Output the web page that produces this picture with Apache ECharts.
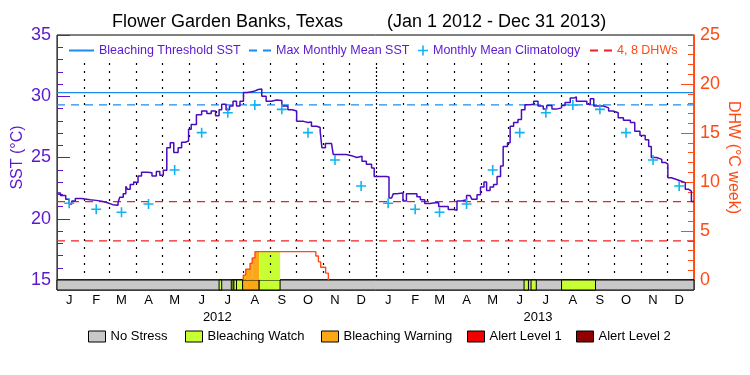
<!DOCTYPE html>
<html><head><meta charset="utf-8">
<script src="https://cdn.jsdelivr.net/npm/echarts@6/dist/echarts.min.js"></script>
<style>html,body{margin:0;padding:0;background:#fff}#c{width:750px;height:375px}</style>
</head><body><div id="c"></div>
<script>
// ---------- DATA ----------
const titleLeft = 'Flower Garden Banks, Texas';
const titleRight = '(Jan 1 2012 - Dec 31 2013)';
const monthLetters = ['J','F','M','A','M','J','J','A','S','O','N','D'];
const yearLabels = ['2012','2013'];
// days since 2012-01-01
const sstDay = [
  0,4,10,14,17,21,28,38,45,53,
  58,64,70,72,76,79,81,84,88,90,
  93,97,104,109,114,118,122,126,130,134,
  139,143,147,151,154,160,166,172,177,182,
  186,189,194,198,202,206,210,214,218,222,
  226,231,235,240,246,252,258,265,270,275,
  283,288,292,298,302,304,308,315,317,325,
  332,338,344,350,355,361,364,370,378,381,
  384,386,390,397,401,409,413,417,422,428,
  434,438,445,449,455,459,464,470,474,476,
  482,486,490,493,497,501,505,509,512,517,
  520,524,529,533,537,543,547,552,558,562,
  568,573,579,583,589,593,596,604,608,612,
  616,621,627,633,638,644,650,658,663,669,
  675,679,682,688,694,698,701,705,711,715,
  721,725,728,731];
const sstVal = [
  22.1,21.9,21.6,21.2,21.45,21.65,21.55,21.5,21.4,21.3,
  21.15,21.1,21.3,21.75,22.05,22.65,22.4,22.8,23.0,22.95,
  23.5,23.8,23.75,23.5,23.85,23.55,23.95,25.8,26.2,25.4,
  25.8,26.25,26.35,27.3,27.7,28.5,28.8,28.6,28.8,28.4,
  28.9,29.35,28.9,29.2,29.6,29.2,29.6,30.3,30.35,30.4,
  30.55,30.6,30.0,29.6,29.7,29.65,29.2,28.9,28.8,27.95,
  27.85,27.9,27.55,27.45,27.15,25.8,26.15,26.1,25.25,25.25,
  25.15,25.0,25.1,24.7,24.45,24.15,23.45,23.45,23.4,21.7,
  21.75,22.05,22.1,21.45,22.05,22.05,21.8,21.55,21.25,21.3,
  21.3,21.0,21.0,20.75,20.7,21.45,21.55,21.9,21.95,21.6,
  21.95,22.6,23.0,22.3,22.6,22.8,23.45,24.3,25.9,26.2,
  27.55,27.85,28.1,28.9,29.3,29.35,29.6,29.2,28.95,29.25,
  28.95,29.05,29.25,29.5,29.85,29.95,29.6,29.6,29.35,29.8,
  29.2,29.2,29.05,28.8,28.65,28.25,28.05,27.85,27.15,26.8,
  26.45,25.9,25.0,24.85,24.6,24.45,23.35,23.2,23.1,22.95,
  22.4,22.25,21.4,21.4];
const climMonthly = [21.26,20.77,20.53,21.2,23.98,27.03,28.66,29.29,28.93,27.03,24.8,22.67];
const thresholdSST = 30.3;
const mmmSST = 29.3;
const dhwLevels = [4, 8];
const dhwDay = [213.8,216.5,221.5,224,227.2,297,300,302.6,308.3,311.4];
const dhwVal = [0.5,1.1,1.7,2.25,2.9,2.45,1.85,1.3,0.7,0];
const stressNames = ['No Stress','Bleaching Watch','Bleaching Warning','Alert Level 1','Alert Level 2'];
const stressStart = [186,200,203,206,213,232,536,544,579];
const stressEnd   = [189,202,206,213,232,256,541,550,618];
const stressLevel = [1,1,1,1,2,1,1,1,1];

// ---------- STYLE ----------
const FONT = 'Liberation Sans, Arial, sans-serif';
const PURPLE = '#5a18d0';
const LINEPURPLE = '#4a0cc0';
const ORANGE = '#ff4a14';
const BLUE = '#1a8cf0';
const CYAN = '#10b4f0';
const RED = '#f02020';
const stressColors = ['#c8c8c8','#c8ff32','#fba814','#f00000','#900000'];
const PLUS = 'path://M4,0L5.5,0L5.5,4L9.5,4L9.5,5.5L5.5,5.5L5.5,9.5L4,9.5L4,5.5L0,5.5L0,4L4,4Z';

const dayOf = (y,m,d) => (Date.UTC(y,m,d) - Date.UTC(2012,0,1)) / 864e5;
const monthStarts = [];
for (let y = 2012; y <= 2013; y++) for (let m = 0; m < 12; m++) monthStarts.push(dayOf(y,m,1));
const END = dayOf(2014,0,1);
const monthMid = monthStarts.map(d => d + 14);

const sstData = sstDay.map((d,i) => [d, sstVal[i]]);
const climData = monthMid.map((d,i) => [d, climMonthly[i % 12]]);
const dhwLine = [[dhwDay[0], 0]].concat(dhwDay.map((d,i) => [d, dhwVal[i]]));

const fillItems = [];
for (let i = 0; i < dhwDay.length - 1; i++) {
  const s = dhwDay[i], e = dhwDay[i+1], v = dhwVal[i];
  stressStart.forEach((ss,k) => {
    const a = Math.max(s, ss), b = Math.min(e, stressEnd[k]);
    if (b > a && stressLevel[k] > 0) fillItems.push([a, b, v, stressLevel[k]]);
  });
}
const stressItems = [[0, END, 0]].concat(stressStart.map((s,k) => [s, stressEnd[k], stressLevel[k]]));
const gridLines = monthStarts.slice(1);

const chart = echarts.init(document.getElementById('c'), null, {renderer:'canvas'});

function legendItem(name, left, top, w, h, color, extra) {
  return Object.assign({
    data:[{name:name, textStyle:{color:color}}], left:left, top:top, padding:0, itemGap:0,
    itemWidth:w, itemHeight:h, selectedMode:false,
    textStyle:{fontFamily:FONT, fontSize:12.5, color:color}
  }, extra || {});
}
const noSym = {itemStyle:{opacity:0}};
const boxed = {icon:'rect', itemStyle:{borderColor:'#000', borderWidth:1, opacity:1}, textStyle:{fontFamily:FONT, fontSize:13, color:'#000'}};

const option = {
  animation:false,
  backgroundColor:'#fff',
  title:[
    {text:titleLeft, left:112, top:13, padding:0, textStyle:{fontFamily:FONT, fontSize:18, fontWeight:'normal', color:'#000'}},
    {text:titleRight, left:387, top:13, padding:0, textStyle:{fontFamily:FONT, fontSize:18, fontWeight:'normal', color:'#000'}}
  ],
  legend:[
    legendItem('Bleaching Threshold SST', 68, 44, 25, 10, PURPLE, noSym),
    legendItem('Max Monthly Mean SST', 248, 44, 22, 10, PURPLE, noSym),
    legendItem('Monthly Mean Climatology', 418, 44, 10, 10, PURPLE, {itemStyle:{opacity:1, color:CYAN}}),
    legendItem('4, 8 DHWs', 589, 44, 22, 10, ORANGE, noSym),
    legendItem(stressNames[0], 88, 330, 17, 11, '#000', boxed),
    legendItem(stressNames[1], 185, 330, 17, 11, '#000', boxed),
    legendItem(stressNames[2], 321, 330, 17, 11, '#000', boxed),
    legendItem(stressNames[3], 467, 330, 17, 11, '#000', boxed),
    legendItem(stressNames[4], 576, 330, 17, 11, '#000', boxed)
  ],
  grid:[
    {left:57, right:56, top:35, height:245, show:true, borderColor:'#000', borderWidth:1, backgroundColor:'transparent', outerBoundsMode:'none'},
    {left:57, right:56, top:280, height:10, show:true, borderColor:'#000', borderWidth:1, outerBoundsMode:'none'}
  ],
  xAxis:[
    {gridIndex:0, type:'value', min:0, max:END, show:false},
    {gridIndex:1, type:'value', min:0, max:END, position:'bottom',
      axisLine:{show:false}, axisTick:{show:false}, splitLine:{show:false},
      axisLabel:{customValues:monthMid, margin:4, fontFamily:FONT, fontSize:13, color:'#000',
        formatter:v => monthLetters[new Date(Date.UTC(2012,0,1) + v*864e5).getUTCMonth()]}},
    {gridIndex:1, type:'value', min:0, max:END, position:'bottom', offset:18,
      axisLine:{show:false}, axisTick:{show:false}, splitLine:{show:false},
      axisLabel:{customValues:[184, 552], margin:3, fontFamily:FONT, fontSize:13, color:'#000',
        formatter:v => yearLabels[v < 366 ? 0 : 1]}}
  ],
  yAxis:[
    {gridIndex:0, type:'value', min:15, max:35, interval:5, position:'left',
      name:'SST (°C)', nameLocation:'middle', nameGap:31, nameMoveOverlap:false,
      nameTextStyle:{fontFamily:FONT, fontSize:16, color:PURPLE},
      axisLine:{show:true, lineStyle:{color:PURPLE, width:1}},
      axisTick:{show:true, inside:true, length:13, lineStyle:{color:PURPLE}},
      minorTick:{show:true, splitNumber:5, length:6, lineStyle:{color:PURPLE}},
      splitLine:{show:false},
      axisLabel:{margin:6, fontFamily:FONT, fontSize:18, color:PURPLE}},
    {gridIndex:0, type:'value', min:0, max:25, interval:5, position:'right',
      name:'DHW (°C week)', nameLocation:'middle', nameGap:31, nameRotate:-90, nameMoveOverlap:false,
      nameTextStyle:{fontFamily:FONT, fontSize:16, color:ORANGE},
      axisLine:{show:true, lineStyle:{color:ORANGE, width:1}},
      axisTick:{show:true, inside:true, length:13, lineStyle:{color:ORANGE}},
      minorTick:{show:true, splitNumber:5, length:6, lineStyle:{color:ORANGE}},
      splitLine:{show:false},
      axisLabel:{margin:6, fontFamily:FONT, fontSize:18, color:ORANGE}},
    {gridIndex:1, type:'value', min:0, max:1, show:false}
  ],
  series:[
    {type:'custom', name:'stressbar', xAxisIndex:1, yAxisIndex:2, z:2, silent:true,
      data:stressItems, encode:{x:[0,1], y:2},
      renderItem:(p, api) => {
        const a = api.coord([api.value(0), 1]), b = api.coord([api.value(1), 0]);
        return {type:'rect', shape:{x:a[0], y:a[1], width:b[0]-a[0], height:b[1]-a[1]},
          style:{fill:stressColors[api.value(2)], stroke:'#000', lineWidth:1}};
      }},
    {type:'custom', name:'dhwfill', xAxisIndex:0, yAxisIndex:1, z:2, silent:true,
      data:fillItems, encode:{x:[0,1], y:2},
      renderItem:(p, api) => {
        const a = api.coord([api.value(0), api.value(2)]), b = api.coord([api.value(1), 0]);
        return {type:'rect', shape:{x:a[0], y:a[1], width:b[0]-a[0], height:b[1]-a[1]},
          style:{fill:stressColors[api.value(3)]}};
      }},
    {type:'custom', name:'monthgrid', xAxisIndex:0, yAxisIndex:0, z:3, silent:true,
      data:gridLines.map(d => [d, 32.7]), encode:{x:0, y:1},
      renderItem:(p, api) => {
        const d = api.value(0);
        const a = api.coord([d, api.value(1)]), b = api.coord([d, 15.15]);
        const isYear = Math.abs(d - 366) < 0.5;
        const x = Math.round(a[0]) + 0.5;
        return {type:'line', shape:{x1:x, y1:Math.round(a[1]), x2:x, y2:Math.round(b[1])},
          style:{stroke:'#000', lineWidth:1.2, lineDash:isYear ? [2,2] : [2,6]}};
      }},
    {type:'line', name:'Bleaching Threshold SST', xAxisIndex:0, yAxisIndex:0, z:4,
      data:[[0, thresholdSST],[END, thresholdSST]], symbol:'none', silent:true,
      color:BLUE, lineStyle:{color:BLUE, width:1.3}},
    {type:'line', name:'Max Monthly Mean SST', xAxisIndex:0, yAxisIndex:0, z:4,
      data:[[0, mmmSST],[END, mmmSST]], symbol:'none', silent:true,
      color:BLUE, lineStyle:{color:BLUE, width:1.3, type:[8,6]}},
    {type:'line', name:'4, 8 DHWs', xAxisIndex:0, yAxisIndex:1, z:4,
      data:[[0, dhwLevels[0]],[END, dhwLevels[0]]], symbol:'none', silent:true,
      color:RED, lineStyle:{color:RED, width:1.3, type:[8,6]}},
    {type:'line', name:'4, 8 DHWs', xAxisIndex:0, yAxisIndex:1, z:4,
      data:[[0, dhwLevels[1]],[END, dhwLevels[1]]], symbol:'none', silent:true,
      color:RED, lineStyle:{color:RED, width:1.3, type:[8,6]}},
    {type:'line', name:'DHW', xAxisIndex:0, yAxisIndex:1, z:5,
      data:dhwLine, step:'end', symbol:'none', silent:true,
      lineStyle:{color:ORANGE, width:1.4}},
    {type:'line', name:'SST', xAxisIndex:0, yAxisIndex:0, z:6,
      data:sstData, step:'end', symbol:'none', silent:true,
      lineStyle:{color:LINEPURPLE, width:1.5}},
    {type:'scatter', name:'Monthly Mean Climatology', xAxisIndex:0, yAxisIndex:0, z:7,
      data:climData, symbol:PLUS, symbolSize:10, silent:true, color:CYAN,
      itemStyle:{color:CYAN, opacity:1}},
    {type:'scatter', name:stressNames[0], xAxisIndex:1, yAxisIndex:2, data:[], color:stressColors[0], itemStyle:{opacity:1}},
    {type:'scatter', name:stressNames[1], xAxisIndex:1, yAxisIndex:2, data:[], color:stressColors[1], itemStyle:{opacity:1}},
    {type:'scatter', name:stressNames[2], xAxisIndex:1, yAxisIndex:2, data:[], color:stressColors[2], itemStyle:{opacity:1}},
    {type:'scatter', name:stressNames[3], xAxisIndex:1, yAxisIndex:2, data:[], color:stressColors[3], itemStyle:{opacity:1}},
    {type:'scatter', name:stressNames[4], xAxisIndex:1, yAxisIndex:2, data:[], color:stressColors[4], itemStyle:{opacity:1}}
  ]
};
chart.setOption(option);
</script>
</body></html>
